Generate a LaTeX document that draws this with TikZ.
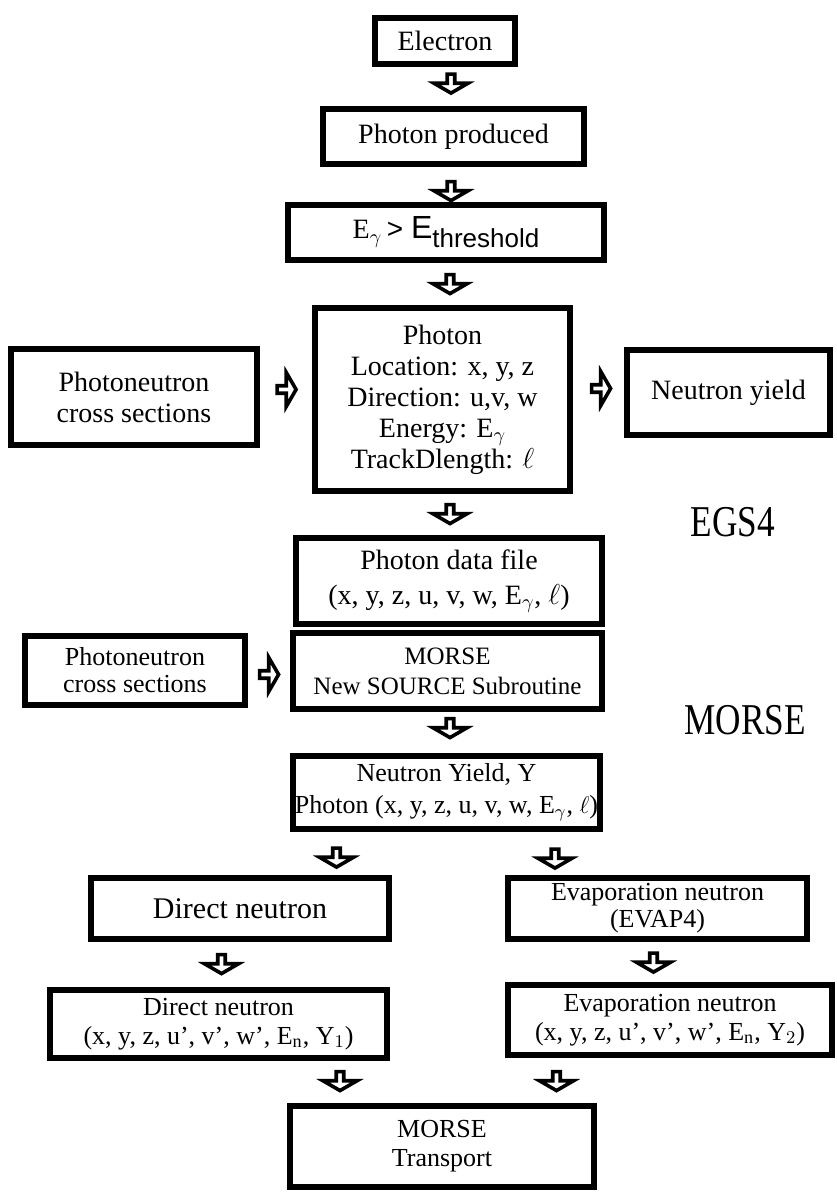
\documentclass[tikz,border=0pt]{standalone}
\usepackage{fontspec}
\setmainfont{Liberation Serif}
\setsansfont{Liberation Sans}
\newfontfamily\labfont[FakeStretch=0.8]{Liberation Serif}
\usetikzlibrary{shapes.arrows}

\begin{document}
\begin{tikzpicture}[x=0.5pt, y=-0.5pt,
  box/.style={draw=black, line width=2.8pt, fill=white, inner sep=0pt, align=center,
    font=\fontsize{14}{15.5}\selectfont},
  sz/.style 2 args={minimum width=#1pt, minimum height=#2pt},
  blk/.style={single arrow, draw=black, fill=white, line width=1.8pt, inner sep=0pt,
    minimum width=17pt, minimum height=9.5pt, single arrow head extend=3.2pt,
    single arrow tip angle=120},
  dn/.style={blk, shape border rotate=270},
  rt/.style={blk}]
\useasboundingbox (0,0) rectangle (836,1192);

% EGS4 part
\node[box, sz={70.2}{23.2}] (elec) at (445,41) {Electron};
\node[box, sz={130.7}{27.7}] (prod) at (453.5,136.5) {Photon produced};
\node[box, sz={158.2}{27.7}] (egam) at (446,232.5)
  {E$_\gamma$\,{\sffamily > \fontsize{16}{16}\selectfont E\fontsize{13}{13}\selectfont\raisebox{-4.5pt}{threshold}}};
\node[box, sz={127.7}{91.7}] (phot) at (442.5,399.5)
  {Photon\\Location: x, y, z\\Direction: u,v, w\\Energy: E$_\gamma$\\TrackDlength: $\ell$};
\node[box, sz={123.2}{48.2}] (pnxs) at (134,397) {Photoneutron\\cross sections};
\node[box, sz={101.7}{42.7}] (yield) at (728.5,392.5) {Neutron yield};
\node[box, sz={153.2}{43.2}, font=\fontsize{14}{17.5}\selectfont] (data) at (449,581)
  {Photon data file\\(x, y, z, u, v, w, E$_\gamma$, $\ell$)};

% MORSE part
\node[box, sz={154.7}{38.2}, font=\fontsize{12.5}{15}\selectfont] (morse) at (447.5,671)
  {MORSE\\New SOURCE Subroutine};
\node[box, sz={110.2}{34.7}, font=\fontsize{13}{13.5}\selectfont] (pnxsb) at (135,670.5)
  {Photoneutron\\cross sections};
\node[box, sz={153.7}{36.7}, font=\fontsize{13}{16}\selectfont] (nyld) at (446.5,792.5)
  {Neutron Yield, Y\\Photon (x, y, z, u, v, w, E$_\gamma$, $\ell$)};
\node[box, sz={149.2}{30.7}, font=\fontsize{15}{16}\selectfont] (dira) at (240,908.5) {Direct neutron};
\node[box, sz={149.7}{30.7}, font=\fontsize{13}{13.5}\selectfont] (evpa) at (657.5,908.5)
  {Evaporation neutron\\(EVAP4)};
\node[box, sz={168.7}{34.2}, font=\fontsize{13}{14.5}\selectfont] (dirb) at (218.5,1024)
  {Direct neutron\\(x, y, z, u', v', w', E$_\mathrm{n}$, Y$_1$)};
\node[box, sz={162.2}{35.2}, font=\fontsize{13}{14.5}\selectfont] (evpb) at (670,1020)
  {Evaporation neutron\\(x, y, z, u', v', w', E$_\mathrm{n}$, Y$_2$)};
\node[box, sz={152.2}{40.7}, font=\fontsize{13}{14.5}\selectfont] (trans) at (442,1146.5)
  {MORSE\\Transport};

\node[font=\labfont\fontsize{22}{22}\selectfont] (egs) at (733,522) {EGS4};
\node[font=\labfont\fontsize{22}{22}\selectfont] (mrs) at (745,720) {MORSE};

% block arrows
\node[dn] (a1) at (451,82.5) {};
\node[dn] (a2) at (451,190) {};
\node[dn] (a3) at (450,283) {};
\node[rt] (a4) at (285.5,389.5) {};
\node[rt] (a5) at (600,388.5) {};
\node[dn] (a6) at (450,513) {};
\node[rt] (a7) at (268,674.5) {};
\node[dn] (a8) at (450,727) {};
\node[dn] (a9) at (336.5,856.5) {};
\node[dn] (a10) at (555,857.5) {};
\node[dn] (a11) at (221.5,963) {};
\node[dn] (a12) at (653.5,961.5) {};
\node[dn] (a13) at (340,1080) {};
\node[dn] (a14) at (556.5,1080) {};
\end{tikzpicture}
\end{document}
